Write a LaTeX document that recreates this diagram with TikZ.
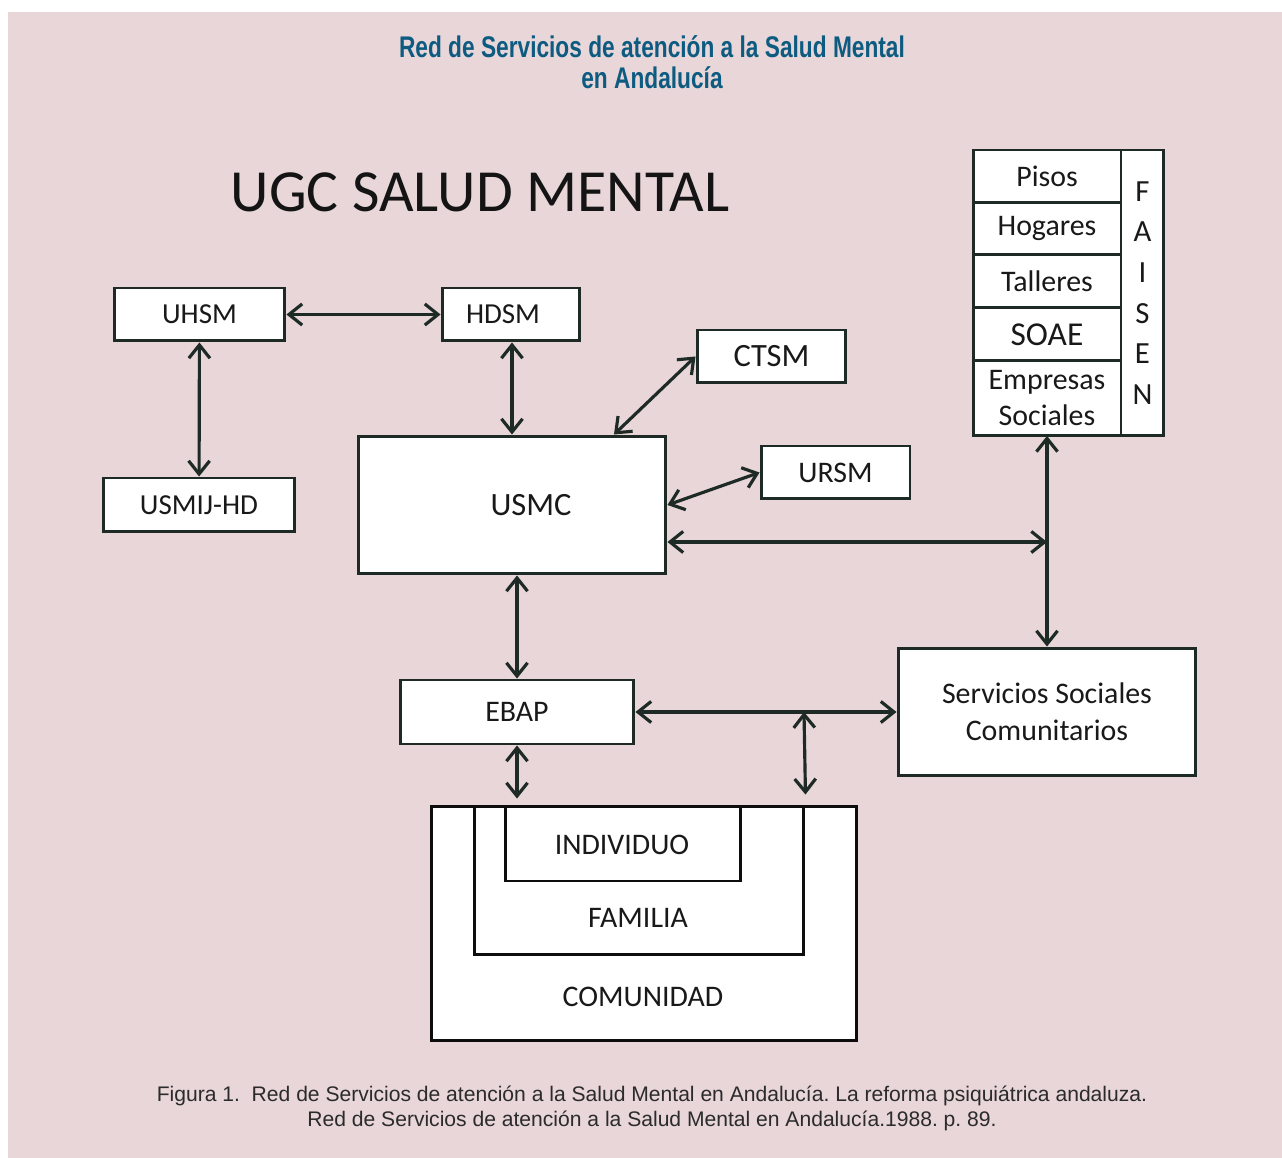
\documentclass[tikz,border=0pt]{standalone}
\usepackage{fontspec}
\setmainfont{Carlito}
\newfontfamily\titlefont{Liberation Sans}[FakeStretch=0.76]
\newfontfamily\capfont{Liberation Sans}
\usepackage{tikz}
\usetikzlibrary{arrows.meta,positioning,calc}
\frenchspacing

\definecolor{panel}{HTML}{E8D6D9}
\definecolor{titleblue}{HTML}{0D5B80}
\definecolor{linec}{HTML}{1D2A25}
\definecolor{capgray}{HTML}{2B2B2B}

\tikzset{
  box/.style={rectangle, draw=linec, fill=white, line width=1.7pt, align=center, inner sep=0pt, text=black!90, font=\fontsize{16.5}{21}\selectfont},
  midbox/.style={box, font=\fontsize{17}{21}\selectfont},
  bigbox/.style={box, font=\fontsize{18.5}{21}\selectfont},
  rowbox/.style={box, outer sep=0pt, minimum width=2.96cm, font=\fontsize{17}{21}\selectfont},
  nestbox/.style={rectangle, draw=black!95, fill=white, line width=1.7pt, inner sep=0pt},
  nesttext/.style={font=\fontsize{17}{20}\selectfont, text=black!90},
  conn/.style={<->, >={Straight Barb[length=7.5pt,width=12pt]}, line width=1.8pt, draw=linec}
}

\begin{document}
\begin{tikzpicture}[x=0.02cm, y=-0.02cm]
\useasboundingbox (0,0) rectangle (1282,1158);
\fill[white] (0,0) rectangle (1282,1158);
\fill[panel] (8,12) rectangle (1282,1158);

% titles
\node[font=\titlefont\bfseries\fontsize{17}{18}\selectfont, text=titleblue, align=center] (title) at (652,62) {Red de Servicios de atención a la Salud Mental\\[-0.5pt]en Andalucía};
\node[font=\fontsize{34}{40}\selectfont, text=black!92] (ugc) at (480,192) {UGC SALUD MENTAL};

% hospital side
\node[box, minimum width=3.42cm, minimum height=1.06cm] (uhsm) at (199.5,314.5) {UHSM};
\node[box, minimum width=2.76cm, minimum height=1.06cm] (hdsm) at (511,314.5) {HDSM\hspace*{0.32cm}};
\node[box, minimum width=3.84cm, minimum height=1.08cm] (usmij) at (199,505) {USMIJ-HD};
\node[bigbox, minimum width=2.98cm, minimum height=1.06cm] (ctsm) at (771.5,356.5) {CTSM};
\node[bigbox, minimum width=6.16cm, minimum height=2.76cm] (usmc) at (512,505) {\hspace*{0.76cm}USMC};
\node[midbox, minimum width=2.98cm, minimum height=1.06cm] (ursm) at (835.5,472.5) {URSM};

% FAISEN block
\node[rowbox, minimum height=1.06cm] (pisos) at (1047,176.5) {Pisos};
\node[rowbox, minimum height=1.04cm, below=0pt of pisos] (hogares) {Hogares};
\node[rowbox, minimum height=1.06cm, below=0pt of hogares] (talleres) {Talleres};
\node[rowbox, minimum height=1.06cm, below=0pt of talleres, font=\fontsize{19}{21}\selectfont] (soae) {SOAE};
\node[rowbox, minimum height=1.5cm, below=0pt of soae, font=\fontsize{17}{20.5}\selectfont] (empresas) {Empresas\\Sociales};
\node[box, outer sep=0pt, minimum width=0.86cm, minimum height=5.72cm, anchor=north west, font=\fontsize{17.5}{23.1}\selectfont] (faisen) at (pisos.north east) {F\\A\\I\\S\\E\\N};

% community side
\node[midbox, minimum width=5.96cm, minimum height=2.56cm] (serv) at (1047,712) {Servicios Sociales\\Comunitarios};
\node[midbox, minimum width=4.68cm, minimum height=1.28cm] (ebap) at (517,712) {EBAP};

% nested boxes
\node[nestbox, minimum width=8.52cm, minimum height=4.7cm] (comu) at (644,923.5) {};
\node[nestbox, minimum width=6.6cm, minimum height=2.98cm] (fam) at (639,880.5) {};
\node[nestbox, minimum width=4.72cm, minimum height=1.5cm] (indiv) at (623,843.5) {};
\node[nesttext] (indivtxt) at (622,845) {INDIVIDUO};
\node[nesttext] (famtxt) at (638,918) {FAMILIA};
\node[nesttext] (comutxt) at (643,997) {COMUNIDAD};

% junctions
\coordinate (j1) at (1047,542);
\coordinate (j2) at (804,712);

% connectors
\draw[conn] (uhsm) -- (hdsm);
\draw[conn] (uhsm) -- (usmij);
\draw[conn] (hdsm.south -| usmc) -- (usmc);
\draw[conn] (ctsm.west) -- ([xshift=2.04cm]usmc.north);
\draw[conn] (ursm.west) -- (usmc.east);
\draw[conn] (usmc.east |- j1) -- (j1);
\draw[conn] (empresas.south) -- (serv.north);
\draw[conn] (usmc.south -| ebap) -- (ebap.north);
\draw[conn] (ebap.east) -- (serv.west);
\draw[conn] (j2) -- ([yshift=0.2cm]fam.north east);
\draw[conn] (ebap.south) -- ([yshift=0.12cm]ebap.south |- comu.north);

% caption
\node[font=\capfont\fontsize{12}{14.2}\selectfont, text=capgray, align=center] (caption) at (652,1108) {Figura 1.\ \ Red de Servicios de atención a la Salud Mental en Andalucía. La reforma psiquiátrica andaluza.\\Red de Servicios de atención a la Salud Mental en Andalucía.1988. p. 89.};
\end{tikzpicture}
\end{document}
